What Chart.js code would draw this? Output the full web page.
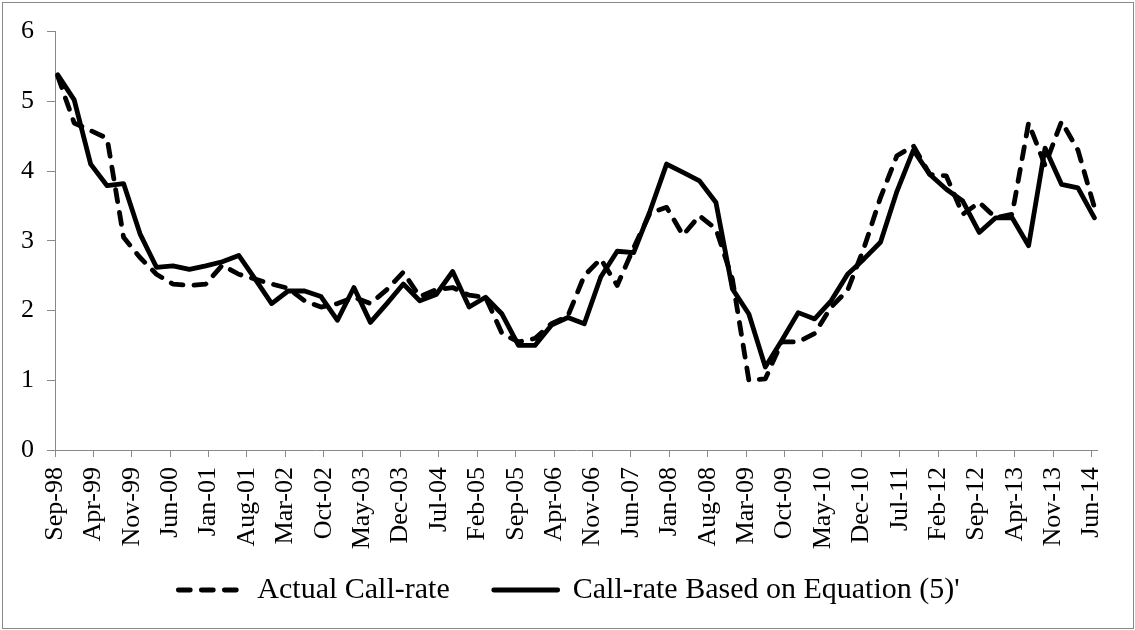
<!DOCTYPE html>
<html>
<head>
<meta charset="utf-8">
<script src="https://cdn.jsdelivr.net/npm/chart.js@4.4.1/dist/chart.umd.min.js"></script>
<style>
  html, body { margin: 0; padding: 0; background: #fff; }
  #wrap { position: absolute; left: 2px; top: 2px; width: 1130px; height: 625px; border: 1px solid #898989; }
  canvas { display: block; }
</style>
</head>
<body>
<div id="wrap"><canvas id="myChart" width="1130" height="625"></canvas></div>
<script>
// 四半期の日付
const quarters = [
  'Sep-98', 'Dec-98',
  'Mar-99', 'Jun-99', 'Sep-99', 'Dec-99',
  'Mar-00', 'Jun-00', 'Sep-00', 'Dec-00',
  'Mar-01', 'Jun-01', 'Sep-01', 'Dec-01',
  'Mar-02', 'Jun-02', 'Sep-02', 'Dec-02',
  'Mar-03', 'Jun-03', 'Sep-03', 'Dec-03',
  'Mar-04', 'Jun-04', 'Sep-04', 'Dec-04',
  'Mar-05', 'Jun-05', 'Sep-05', 'Dec-05',
  'Mar-06', 'Jun-06', 'Sep-06', 'Dec-06',
  'Mar-07', 'Jun-07', 'Sep-07', 'Dec-07',
  'Mar-08', 'Jun-08', 'Sep-08', 'Dec-08',
  'Mar-09', 'Jun-09', 'Sep-09', 'Dec-09',
  'Mar-10', 'Jun-10', 'Sep-10', 'Dec-10',
  'Mar-11', 'Jun-11', 'Sep-11', 'Dec-11',
  'Mar-12', 'Jun-12', 'Sep-12', 'Dec-12',
  'Mar-13', 'Jun-13', 'Sep-13', 'Dec-13',
  'Mar-14', 'Jun-14'
];

const actualRate = [
  5.36, 4.69,
  4.58, 4.47, 3.05, 2.76,
  2.52, 2.38, 2.36, 2.38,
  2.65, 2.52, 2.45, 2.38,
  2.32, 2.14, 2.05, 2.10,
  2.19, 2.10, 2.30, 2.55,
  2.20, 2.30, 2.33, 2.22,
  2.19, 1.67, 1.55, 1.60,
  1.81, 1.92, 2.50, 2.74,
  2.36, 2.90, 3.40, 3.48,
  3.08, 3.36, 3.17, 2.45,
  1.00, 1.02, 1.55, 1.55,
  1.67, 2.05, 2.29, 2.90,
  3.62, 4.22, 4.36, 3.95,
  3.93, 3.38, 3.55, 3.33,
  3.38, 4.69, 4.08, 4.71,
  4.30, 3.48
];

const modelRate = [
  5.38, 5.02,
  4.10, 3.79, 3.82, 3.10,
  2.62, 2.64, 2.59, 2.64,
  2.70, 2.79, 2.45, 2.10,
  2.28, 2.28, 2.20, 1.86,
  2.33, 1.83, 2.10, 2.38,
  2.14, 2.23, 2.56, 2.05,
  2.19, 1.95, 1.50, 1.50,
  1.79, 1.90, 1.81, 2.48,
  2.85, 2.83, 3.43, 4.10,
  3.98, 3.86, 3.55, 2.31,
  1.95, 1.19, 1.57, 1.97,
  1.88, 2.14, 2.52, 2.74,
  2.98, 3.71, 4.30, 3.95,
  3.74, 3.57, 3.12, 3.33,
  3.33, 2.93, 4.33, 3.81,
  3.76, 3.33
];

// 目盛りラベル（7か月ごと）
const tickLabels = [
  'Sep-98', 'Apr-99', 'Nov-99', 'Jun-00', 'Jan-01', 'Aug-01', 'Mar-02',
  'Oct-02', 'May-03', 'Dec-03', 'Jul-04', 'Feb-05', 'Sep-05', 'Apr-06',
  'Nov-06', 'Jun-07', 'Jan-08', 'Aug-08', 'Mar-09', 'Oct-09', 'May-10',
  'Dec-10', 'Jul-11', 'Feb-12', 'Sep-12', 'Apr-13', 'Nov-13', 'Jun-14'
];

const MONTHS = ['Jan','Feb','Mar','Apr','May','Jun','Jul','Aug','Sep','Oct','Nov','Dec'];

// 'Sep-98' からの月数
function monthIndex(label) {
  const [m, yy] = label.split('-');
  const year = Number(yy) > 50 ? 1900 + Number(yy) : 2000 + Number(yy);
  return (year * 12 + MONTHS.indexOf(m)) - (1998 * 12 + 8);
}

function toPoints(values) {
  return values.map((v, i) => ({ x: monthIndex(quarters[i]) + 0.5, y: v }));
}

const serif = "'Times New Roman', 'Liberation Serif', serif";
const axisGrey = '#898989';

// 凡例の位置を微調整（軸ラベルと重ねて配置するため）
const legendPlace = {
  id: 'legendPlace',
  afterLayout(chart) {
    const lg = chart.legend;
    const dx = 6.5;
    lg.top = 528;
    lg.bottom = chart.height;
    lg.height = lg.bottom - lg.top;
    lg.left += dx; lg.right += dx;
  }
};

new Chart(document.getElementById('myChart'), {
  type: 'line',
  data: {
    datasets: [
      {
        label: 'Actual Call-rate',
        data: toPoints(actualRate),
        borderColor: '#000',
        backgroundColor: '#000',
        borderWidth: 4.8,
        borderDash: [12, 11],
        borderCapStyle: 'round',
        borderJoinStyle: 'round',
        pointRadius: 0,
        tension: 0
      },
      {
        label: "Call-rate Based on Equation (5)'",
        data: toPoints(modelRate),
        borderColor: '#000',
        backgroundColor: '#000',
        borderWidth: 4.8,
        borderCapStyle: 'round',
        borderJoinStyle: 'round',
        pointRadius: 0,
        tension: 0
      }
    ]
  },
  plugins: [legendPlace],
  options: {
    responsive: false,
    animation: false,
    devicePixelRatio: 1,
    layout: { padding: { left: 14, right: 25, top: 27, bottom: 6 } },
    plugins: {
      tooltip: { enabled: false },
      legend: {
        position: 'bottom',
        maxHeight: 60,
        labels: {
          usePointStyle: true,
          pointStyleWidth: 64,
          boxHeight: 6,
          padding: 44,
          color: '#000',
          font: { family: serif, size: 30 },
          generateLabels: chart => chart.data.datasets.map((ds, i) => ({
            text: ds.label,
            datasetIndex: i,
            fillStyle: ds.borderColor,
            strokeStyle: ds.borderColor,
            lineWidth: ds.borderWidth,
            lineDash: ds.borderDash || [],
            lineCap: 'round',
            pointStyle: 'line',
            fontColor: '#000',
            hidden: false
          }))
        }
      }
    },
    scales: {
      x: {
        type: 'linear',
        min: 0,
        max: 190,
        afterBuildTicks: s => {
          s.ticks = tickLabels.map((t, k) => ({ value: k * 7 }));
        },
        afterFit: s => { s.height = 112; },
        ticks: {
          autoSkip: false,
          minRotation: 90,
          maxRotation: 90,
          padding: 10,
          color: '#000',
          font: { family: serif, size: 26 },
          callback: v => tickLabels[Math.round(v / 7)]
        },
        grid: { drawOnChartArea: false, tickLength: 7, color: axisGrey },
        border: { color: axisGrey }
      },
      y: {
        min: 0,
        max: 6,
        afterFit: s => { s.width = 38; },
        ticks: {
          stepSize: 1,
          padding: 13,
          color: '#000',
          font: { family: serif, size: 26 }
        },
        grid: { drawOnChartArea: false, tickLength: 8, color: axisGrey },
        border: { color: axisGrey }
      }
    }
  }
});
</script>
</body>
</html>
